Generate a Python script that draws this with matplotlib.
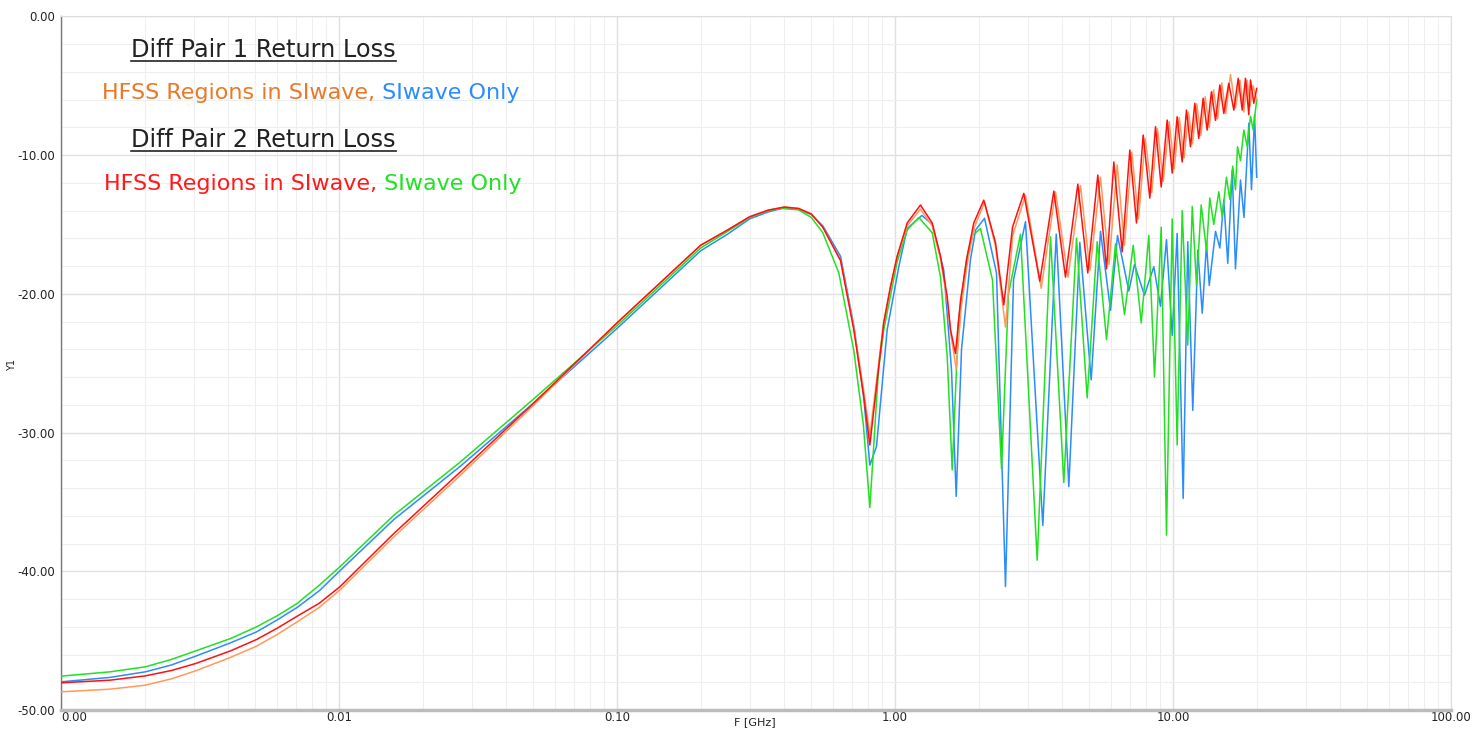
import matplotlib
matplotlib.use("Agg")
import matplotlib.pyplot as plt
from matplotlib.lines import Line2D
from matplotlib.ticker import FixedLocator, FixedFormatter, MultipleLocator, LogLocator, NullFormatter

# ---------------- data (F in GHz, return loss in dB) ----------------
red_f = [0.001, 0.0015, 0.00201, 0.0025, 0.00305, 0.00407, 0.00505, 0.006, 0.00707, 0.0085, 0.01007, 0.01575, 0.02736,
         0.05, 0.1, 0.2, 0.25, 0.3,
         0.35, 0.40, 0.45, 0.5, 0.55, 0.637, 0.711, 0.772, 0.812, 0.911, 0.963, 1.018, 1.106, 1.235, 1.361, 1.458,
         1.541, 1.584, 1.650, 1.720, 1.818, 1.920, 2.086, 2.298,
         2.462, 2.647, 2.906, 3.318, 3.726, 4.105, 4.546, 4.937, 5.364, 5.765, 6.125, 6.565, 6.992, 7.390,
         7.811, 8.252, 8.651, 9.069, 9.530, 9.934, 10.35, 10.79, 11.18, 11.56, 11.98, 12.38, 12.84, 13.27,
         13.75, 14.22, 14.74, 15.23, 15.87, 16.55, 17.16, 17.74, 18.23, 18.74, 19.00, 19.53, 20.0]
red_db = [-48.04, -47.85, -47.54, -47.15, -46.65, -45.74, -44.92, -44.1, -43.24, -42.3, -41.12, -37.28, -32.83,
          -27.9, -22.1, -16.5, -15.4, -14.45,
          -13.97, -13.75, -13.85, -14.25, -15.2, -17.6, -22.6, -27.4, -30.9, -22.1, -19.5, -17.3, -14.9, -13.6, -14.9, -17.3,
          -20.2, -22.6, -24.3, -20.5, -17.3, -14.9, -13.25, -16.3,
          -20.8, -15.2, -12.76, -19.1, -12.6, -18.8, -12.1, -18.5, -11.44, -18.2, -10.5, -16.97, -9.64, -14.9,
          -8.56, -13.1, -7.96, -12.3, -7.48, -11.3, -7.24, -10.5, -6.76, -9.4, -6.27, -8.8, -5.91, -8.2,
          -5.44, -7.5, -4.95, -7.0, -4.83, -6.76, -4.47, -6.76, -4.47, -7.1, -4.59, -6.27, -5.2]

orange_f = [0.001, 0.0015, 0.00201, 0.0025, 0.00305, 0.00407, 0.00505, 0.006, 0.00707, 0.0085, 0.01007, 0.01575, 0.02736,
            0.05, 0.1, 0.2, 0.25, 0.3,
            0.35, 0.40, 0.45, 0.5, 0.55, 0.637, 0.711, 0.772, 0.812, 0.911, 0.963, 1.018, 1.106, 1.235, 1.361, 1.458,
            1.541, 1.590, 1.660, 1.730, 1.820, 1.930, 2.100, 2.300,
            2.497, 2.650, 2.947, 3.357, 3.779, 4.191, 4.648, 5.028, 5.486, 5.886, 6.300, 6.691, 7.109, 7.514,
            7.943, 8.390, 8.796, 9.221, 9.690, 10.10, 10.53, 10.97, 11.37, 11.75, 12.18, 12.59, 13.06, 13.50,
            13.99, 14.46, 14.98, 15.48, 16.10, 16.78, 17.42, 17.98, 18.49, 18.92, 19.41, 20.0]
orange_db = [-48.69, -48.5, -48.21, -47.75, -47.18, -46.21, -45.40, -44.55, -43.65, -42.6, -41.36, -37.52, -33.07,
             -28.05, -22.1, -16.5, -15.4, -14.45,
             -13.97, -13.75, -13.85, -14.25, -15.2, -17.6, -22.4, -27.0, -30.2, -22.0, -19.5, -17.3, -15.1, -13.9, -15.1, -17.5,
             -20.5, -23.0, -25.4, -21.0, -17.8, -15.2, -13.4, -16.6,
             -22.4, -15.8, -12.9, -19.6, -12.65, -18.8, -12.2, -18.3, -11.6, -17.9, -10.7, -16.5, -9.8, -14.6,
             -8.8, -12.7, -8.1, -11.9, -7.6, -11.0, -7.3, -10.2, -6.9, -9.2, -6.3, -8.6, -5.8, -8.0,
             -5.3, -7.4, -4.8, -7.0, -4.2, -6.6, -4.6, -6.9, -4.6, -6.5, -5.0, -6.0]

blue_f = [0.001, 0.0015, 0.00201, 0.0025, 0.00305, 0.00407, 0.00505, 0.006, 0.00707, 0.0085, 0.01007, 0.01575, 0.02736,
          0.05, 0.1, 0.2, 0.25, 0.3,
          0.35, 0.40, 0.45, 0.5, 0.55, 0.637, 0.711, 0.772, 0.812, 0.858, 0.937, 1.032, 1.106, 1.250, 1.361, 1.498,
          1.597, 1.660, 1.735, 1.869, 1.950,
          2.099, 2.318, 2.497, 2.669, 2.947, 3.402, 3.802, 4.219, 4.622, 5.078, 5.486, 5.960, 6.316, 6.934,
          7.268, 7.896, 8.530, 9.016, 9.475, 9.934, 10.35, 10.88, 11.30, 11.78, 12.28, 12.74, 13.20, 13.50,
          14.22, 14.74, 15.23, 15.74, 16.33, 16.78, 17.49, 18.00, 18.74, 19.16, 19.65, 20.0]
blue_db = [-47.97, -47.65, -47.25, -46.75, -46.12, -45.16, -44.37, -43.5, -42.61, -41.4, -39.97, -36.27, -32.42,
           -27.9, -22.5, -16.9, -15.7, -14.6,
           -14.1, -13.8, -13.9, -14.3, -15.1, -17.3, -22.3, -27.5, -32.35, -31.0, -22.6, -18.05, -15.3, -14.35, -15.0, -18.3,
           -25.5, -34.6, -24.0, -17.5, -15.4,
           -14.56, -18.5, -41.1, -19.0, -14.8, -36.7, -15.7, -33.9, -16.3, -26.2, -15.5, -21.2, -15.8, -19.8,
           -17.9, -20.1, -18.05, -20.9, -16.1, -23.0, -15.65, -34.75, -16.25, -28.4, -16.85, -21.4, -16.4, -19.4,
           -15.5, -16.7, -13.25, -17.8, -11.1, -18.2, -11.8, -14.5, -7.7, -12.5, -7.1, -11.6]

green_f = [0.001, 0.0015, 0.00201, 0.0025, 0.00305, 0.00407, 0.00505, 0.006, 0.00707, 0.0085, 0.01007, 0.01575, 0.02736,
           0.05, 0.1, 0.2, 0.25, 0.3,
           0.35, 0.39, 0.45, 0.5, 0.55, 0.628, 0.711, 0.770, 0.812, 0.872, 0.911, 1.018, 1.106, 1.218, 1.361, 1.458,
           1.541, 1.606, 1.692, 1.808, 1.900,
           2.030, 2.242, 2.416, 2.560, 2.828, 3.247, 3.626, 4.048, 4.497, 4.913, 5.338, 5.766, 6.211, 6.691,
           7.193, 7.687, 8.184, 8.580, 9.069, 9.475, 9.934, 10.35, 10.79, 11.30, 11.73, 12.15, 12.63, 13.20,
           13.56, 14.02, 14.61, 15.03, 15.57, 16.01, 16.40, 16.78, 17.06, 17.49, 17.98, 18.49, 19.00, 19.44, 20.0]
green_db = [-47.56, -47.25, -46.89, -46.35, -45.74, -44.85, -44.01, -43.2, -42.32, -41.0, -39.68, -35.96, -32.11,
            -27.6, -22.3, -16.7, -15.5, -14.5,
            -14.0, -13.85, -13.95, -14.5, -15.6, -18.5, -24.1, -29.5, -35.4, -25.5, -22.6, -17.7, -15.4, -14.5, -15.6, -18.8,
            -24.5, -32.7, -22.0, -17.5, -15.8,
            -15.3, -19.0, -32.6, -20.0, -15.7, -39.2, -15.9, -33.6, -16.0, -27.5, -16.25, -23.3, -16.4, -21.5,
            -16.5, -22.1, -15.8, -26.0, -15.2, -37.4, -14.6, -30.9, -14.0, -23.7, -13.7, -19.4, -13.6, -16.9,
            -13.1, -15.0, -12.65, -14.45, -11.6, -13.2, -10.8, -12.5, -9.4, -10.4, -8.2, -9.4, -7.2, -8.2, -6.0]

x_ticks = [0.001, 0.01, 0.1, 1, 10, 100]
x_tick_labels = ["0.00", "0.01", "0.10", "1.00", "10.00", "100.00"]
y_ticks = [0, -10, -20, -30, -40, -50]

# ---------------- figure ----------------
W, H = 1484, 729
fig = plt.figure(figsize=(W / 100, H / 100), dpi=100)
ax = fig.add_axes([61 / W, 1 - 710 / H, (1451 - 61) / W, (710 - 16.3) / H])

c_red = "#ff1010"
c_orange = "#ff9a5c"
c_blue = "#2a8cff"
c_green = "#22e022"

ax.plot(blue_f, blue_db, color=c_blue, lw=1.1, zorder=3)
ax.plot(green_f, green_db, color=c_green, lw=1.1, zorder=3)
ax.plot(orange_f, orange_db, color=c_orange, lw=1.1, zorder=4)
ax.plot(red_f, red_db, color=c_red, lw=1.1, zorder=5)

ax.set_xscale("log")
ax.set_xlim(0.001, 100)
ax.set_ylim(-50, 0)

ax.xaxis.set_major_locator(FixedLocator(x_ticks))
ax.xaxis.set_major_formatter(FixedFormatter(x_tick_labels))
ax.xaxis.set_minor_locator(LogLocator(base=10, subs=range(2, 10), numticks=50))
ax.xaxis.set_minor_formatter(NullFormatter())
ax.yaxis.set_major_locator(FixedLocator(y_ticks))
ax.yaxis.set_major_formatter(FixedFormatter(["%.2f" % v for v in y_ticks]))
ax.yaxis.set_minor_locator(MultipleLocator(2))

ax.grid(True, which="major", color="#e0e0e0", lw=1.0, zorder=0)
ax.grid(True, which="minor", color="#efefef", lw=0.8, zorder=0)
ax.set_axisbelow(True)

for side in ["top", "right"]:
    ax.spines[side].set_color("#dddddd")
    ax.spines[side].set_linewidth(0.8)
ax.spines["left"].set_color("#777777")
ax.spines["left"].set_linewidth(1.0)
ax.spines["bottom"].set_color("#bbbbbb")
ax.spines["bottom"].set_linewidth(2.5)

tick_font = ["DejaVu Sans"]
ax.tick_params(axis="both", which="both", length=0, labelsize=8.5, colors="#222222")
ax.tick_params(axis="x", pad=1)
ax.tick_params(axis="y", pad=4)
for lab in ax.get_xticklabels() + ax.get_yticklabels():
    lab.set_family(tick_font)
ax.get_xticklabels()[0].set_ha("left")

# ---------------- annotations ----------------
def fx(px):
    return px / W

def fy(py):
    return 1 - py / H

fig.text(fx(755), fy(722), "F [GHz]", fontsize=8, family=tick_font, color="#222222", ha="center", va="center")
fig.text(fx(12), fy(365), "Y1", fontsize=7, family=tick_font, color="#222222", ha="center", va="center",
         rotation=90)

fs_head = 17.3
fs_line = 16
t1 = fig.text(fx(131), fy(50), "Diff Pair 1 Return Loss", fontsize=fs_head, color="#222222", va="center", ha="left")
a1 = fig.text(fx(102), fy(93), "HFSS Regions in SIwave,", fontsize=fs_line, color="#e8792a", va="center", ha="left")
b1 = ax.annotate(" SIwave Only", xy=(1, 0), xycoords=a1, fontsize=fs_line, color="#2a8cff", va="bottom", ha="left",
                 annotation_clip=False)
t2 = fig.text(fx(131), fy(140), "Diff Pair 2 Return Loss", fontsize=fs_head, color="#222222", va="center", ha="left")
a2 = fig.text(fx(104), fy(184), "HFSS Regions in SIwave,", fontsize=fs_line, color="#ff1a1a", va="center", ha="left")
b2 = ax.annotate(" SIwave Only", xy=(1, 0), xycoords=a2, fontsize=fs_line, color="#22e022", va="bottom", ha="left",
                 annotation_clip=False)

fig.canvas.draw()
r = fig.canvas.get_renderer()
for t in (t1, t2):
    bb = t.get_window_extent(r)
    yl = (bb.y0 + 1) / H
    fig.add_artist(Line2D([bb.x0 / W, bb.x1 / W], [yl, yl], transform=fig.transFigure,
                          color="#222222", lw=1.2))

fig.savefig("out.png", dpi=100)
